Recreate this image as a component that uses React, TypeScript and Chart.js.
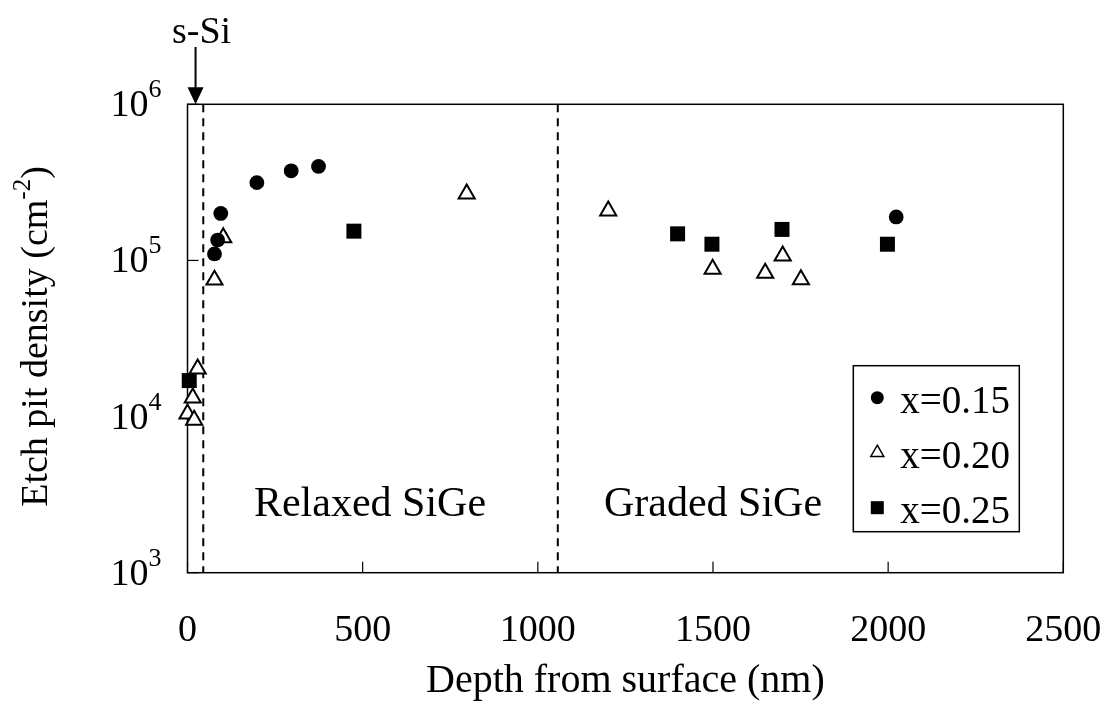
import React, { useEffect, useRef } from 'react';
import { Chart, registerables } from 'chart.js';

Chart.register(...registerables);

const FONT = '"Liberation Serif", "Times New Roman", serif';

// ---- data ----
const seriesLabels = ['x=0.15', 'x=0.20', 'x=0.25'];
const depth015 = [77, 86, 95, 198, 296, 374, 2023];
const density015 = [1.1e5, 1.35e5, 2.0e5, 3.15e5, 3.75e5, 4.0e5, 1.9e5];
const depth020 = [0, 15, 19, 29, 77, 102, 797, 1201, 1499, 1649, 1699, 1751];
const density020 = [1.04e4, 1.32e4, 9.5e3, 2.02e4, 7.5e4, 1.4e5, 2.67e5, 2.08e5, 8.8e4, 8.3e4, 1.07e5, 7.55e4];
const depth025 = [5, 475, 1399, 1497, 1697, 1998];
const density025 = [1.7e4, 1.54e5, 1.48e5, 1.27e5, 1.58e5, 1.27e5];

const xTickValues = [0, 500, 1000, 1500, 2000, 2500];
const yTickExponents = [3, 4, 5, 6];
const boundaryDepths = [45, 1057];
const regionLabels = ['Relaxed SiGe', 'Graded SiGe'];
const regionLabelDepths = [521, 1500];
const regionLabelDensity = 2300;
const sSiLabel = 's-Si';
const sSiDepth = 23;
const xTitle = 'Depth from surface (nm)';
const yTitleMain = 'Etch pit density (cm';
const yTitleSup = '-2';
const yTitleEnd = ')';

const toPoints = (xs: number[], ys: number[]) => xs.map((x, i) => ({ x, y: ys[i] }));

const overlayPlugin = {
  id: 'overlay',
  beforeDatasetsDraw(chart: any) {
    const { ctx, chartArea: a, scales } = chart;
    const x = scales.x;
    const y = scales.y;
    ctx.save();
    ctx.strokeStyle = '#000';
    // dashed layer boundaries
    ctx.lineWidth = 2;
    ctx.setLineDash([8, 6]);
    for (const v of boundaryDepths) {
      const px = x.getPixelForValue(v);
      ctx.beginPath();
      ctx.moveTo(px, a.top);
      ctx.lineTo(px, a.bottom);
      ctx.stroke();
    }
    ctx.setLineDash([]);
    // frame
    ctx.lineWidth = 1.5;
    ctx.strokeRect(a.left, a.top, a.right - a.left, a.bottom - a.top);
    // inward ticks
    ctx.lineWidth = 1.2;
    for (const v of xTickValues) {
      const px = x.getPixelForValue(v);
      ctx.beginPath();
      ctx.moveTo(px, a.bottom);
      ctx.lineTo(px, a.bottom - 11);
      ctx.stroke();
    }
    for (const e of yTickExponents) {
      const py = y.getPixelForValue(Math.pow(10, e));
      ctx.beginPath();
      ctx.moveTo(a.left, py);
      ctx.lineTo(a.left + 11, py);
      ctx.stroke();
    }
    ctx.restore();
  },
  afterDraw(chart: any) {
    const { ctx, chartArea: a, scales } = chart;
    const x = scales.x;
    const y = scales.y;
    ctx.save();
    ctx.fillStyle = '#000';
    ctx.strokeStyle = '#000';

    // y tick labels 10^n
    for (const e of yTickExponents) {
      const py = y.getPixelForValue(Math.pow(10, e));
      ctx.font = `38px ${FONT}`;
      ctx.textAlign = 'right';
      ctx.textBaseline = 'alphabetic';
      const bx = a.left - 39;
      ctx.fillText('10', bx, py + 12);
      ctx.font = `26px ${FONT}`;
      ctx.textAlign = 'left';
      ctx.fillText(String(e), bx, py - 7);
    }

    // y title with superscript
    ctx.save();
    ctx.translate(47, (a.top + a.bottom) / 2 - 2);
    ctx.rotate(-Math.PI / 2);
    ctx.textAlign = 'left';
    ctx.textBaseline = 'alphabetic';
    ctx.font = `38px ${FONT}`;
    const w1 = ctx.measureText(yTitleMain).width;
    const w3 = ctx.measureText(yTitleEnd).width;
    ctx.font = `25px ${FONT}`;
    const w2 = ctx.measureText(yTitleSup).width;
    let sx = -(w1 + w2 + w3) / 2;
    ctx.font = `38px ${FONT}`;
    ctx.fillText(yTitleMain, sx, 0);
    sx += w1;
    ctx.font = `25px ${FONT}`;
    ctx.fillText(yTitleSup, sx, -17);
    sx += w2;
    ctx.font = `38px ${FONT}`;
    ctx.fillText(yTitleEnd, sx, 0);
    ctx.restore();

    // region labels
    ctx.font = `42px ${FONT}`;
    ctx.textAlign = 'center';
    ctx.textBaseline = 'alphabetic';
    const ly = y.getPixelForValue(regionLabelDensity);
    regionLabels.forEach((t, i) => {
      ctx.fillText(t, x.getPixelForValue(regionLabelDepths[i]), ly);
    });

    // s-Si arrow
    const ax = x.getPixelForValue(sSiDepth);
    ctx.font = `38px ${FONT}`;
    ctx.fillText(sSiLabel, ax + 6, 43);
    ctx.lineWidth = 2;
    ctx.beginPath();
    ctx.moveTo(ax, 47);
    ctx.lineTo(ax, a.top - 14);
    ctx.stroke();
    ctx.beginPath();
    ctx.moveTo(ax - 8, a.top - 17);
    ctx.lineTo(ax + 8, a.top - 17);
    ctx.lineTo(ax, a.top);
    ctx.closePath();
    ctx.fill();

    // legend
    const bw = 166;
    const bh = 166;
    const bl = a.right - 44 - bw;
    const bt = a.bottom - 41 - bh;
    ctx.lineWidth = 1.5;
    ctx.strokeRect(bl, bt, bw, bh);
    ctx.font = `39px ${FONT}`;
    ctx.textAlign = 'left';
    ctx.textBaseline = 'alphabetic';
    seriesLabels.forEach((t, i) => {
      const cy = bt + 32 + i * 55;
      const cx = bl + 24;
      if (i === 0) {
        ctx.beginPath();
        ctx.arc(cx, cy, 6.5, 0, Math.PI * 2);
        ctx.fill();
      } else if (i === 1) {
        const r = 7.5;
        ctx.beginPath();
        ctx.moveTo(cx, cy - r);
        ctx.lineTo(cx + r * 0.866, cy + r / 2);
        ctx.lineTo(cx - r * 0.866, cy + r / 2);
        ctx.closePath();
        ctx.fillStyle = '#fff';
        ctx.fill();
        ctx.fillStyle = '#000';
        ctx.lineWidth = 1.5;
        ctx.stroke();
      } else {
        ctx.fillRect(cx - 6.5, cy - 6.5, 13, 13);
      }
      ctx.fillText(t, bl + 47, cy + 15);
    });
    ctx.restore();
  },
};

export default function App() {
  const ref = useRef<HTMLCanvasElement | null>(null);
  useEffect(() => {
    if (!ref.current) return;
    const chart = new Chart(ref.current, {
      type: 'scatter',
      data: {
        datasets: [
          {
            label: seriesLabels[0],
            data: toPoints(depth015, density015),
            pointStyle: 'circle',
            pointRadius: 7.4,
            pointBackgroundColor: '#000',
            pointBorderColor: '#000',
            pointBorderWidth: 0,
            clip: false,
          },
          {
            label: seriesLabels[1],
            data: toPoints(depth020, density020),
            pointStyle: 'triangle',
            pointRadius: 9.3,
            pointBackgroundColor: '#fff',
            pointBorderColor: '#000',
            pointBorderWidth: 2,
            clip: false,
          },
          {
            label: seriesLabels[2],
            data: toPoints(depth025, density025),
            pointStyle: 'rect',
            pointRadius: 10.6,
            pointBackgroundColor: '#000',
            pointBorderColor: '#000',
            pointBorderWidth: 0,
            clip: false,
          },
        ] as any,
      },
      options: {
        animation: false,
        responsive: false,
        layout: { padding: { left: 0, top: 104.3, right: 43.7, bottom: 0 } },
        plugins: { legend: { display: false }, tooltip: { enabled: false } },
        scales: {
          x: {
            type: 'linear',
            min: 0,
            max: 2500,
            afterBuildTicks: (s: any) => {
              s.ticks = xTickValues.map((v) => ({ value: v }));
            },
            afterFit: (s: any) => {
              s.height = 149.3;
              s.paddingLeft = 0;
              s.paddingRight = 0;
            },
            grid: { display: false, drawTicks: false },
            border: { display: false },
            ticks: {
              color: '#000',
              font: { family: FONT, size: 38 },
              padding: 36,
              maxRotation: 0,
              callback: (v: any) => String(v),
            },
            title: {
              display: true,
              text: xTitle,
              color: '#000',
              font: { family: FONT, size: 40 },
              padding: { top: 0, bottom: 17 },
            },
          },
          y: {
            type: 'logarithmic',
            min: 1e3,
            max: 1e6,
            afterFit: (s: any) => {
              s.width = 187.5;
              s.paddingTop = 0;
              s.paddingBottom = 0;
            },
            grid: { display: false, drawTicks: false },
            border: { display: false },
            ticks: { display: false },
          },
        },
      } as any,
      plugins: [overlayPlugin],
    });
    return () => chart.destroy();
  }, []);
  return (
    <div style={{ position: 'absolute', left: 0, top: 0, width: 1107, height: 722, background: '#fff' }}>
      <canvas ref={ref} width={1107} height={722} style={{ display: 'block' }} />
    </div>
  );
}
